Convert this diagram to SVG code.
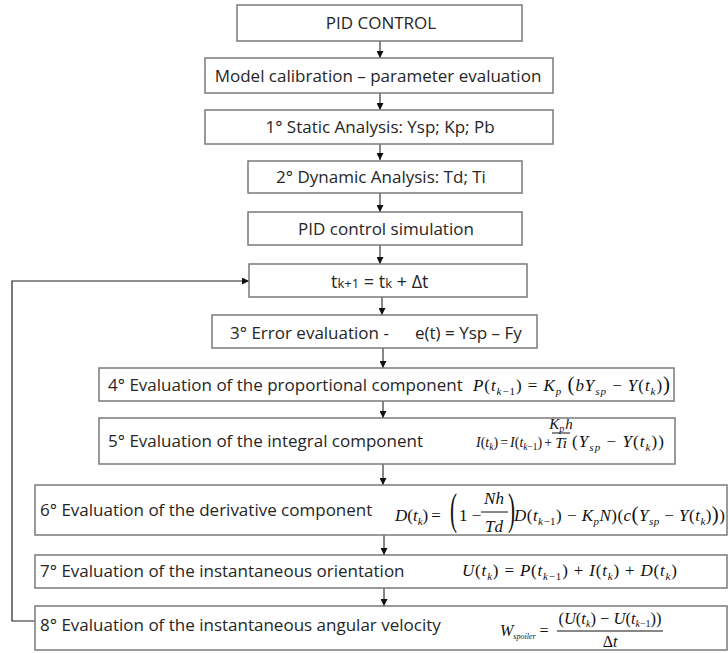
<svg xmlns="http://www.w3.org/2000/svg" width="728" height="653" viewBox="0 0 728 653">
<style>
.box{fill:#fff;stroke:#7a7a7a;stroke-width:1.5}
.t{font-family:"Open Sans","Liberation Sans",sans-serif;font-size:17px;fill:#262626}
.c{text-anchor:middle}
.m{font-family:"Liberation Serif",serif;font-size:17px;font-style:italic;fill:#111}
.u{font-style:normal}
.s{font-size:11px}
.bp{font-family:"Liberation Serif",serif;font-size:21px;font-style:normal;fill:#111}
.con{fill:none;stroke:#111;stroke-width:1}
.fb{fill:none;stroke:#222;stroke-width:1.2}
.bar{stroke:#111;stroke-width:1}
</style>
<defs>
<marker id="ah" viewBox="0 0 10 10" refX="10" refY="5" markerWidth="7" markerHeight="7" markerUnits="userSpaceOnUse" orient="auto">
<path d="M0,0 L10,5 L0,10 z" fill="#111"/>
</marker>
</defs>

<g id="connectors">
<path class="con" d="M380,41 V58" marker-end="url(#ah)"/>
<path class="con" d="M380,93 V110" marker-end="url(#ah)"/>
<path class="con" d="M380,144 V160" marker-end="url(#ah)"/>
<path class="con" d="M380,193 V212" marker-end="url(#ah)"/>
<path class="con" d="M380,245 V264" marker-end="url(#ah)"/>
<path class="con" d="M382,297 V315" marker-end="url(#ah)"/>
<path class="con" d="M383,348 V368" marker-end="url(#ah)"/>
<path class="con" d="M383,401 V418" marker-end="url(#ah)"/>
<path class="con" d="M383,464 V485" marker-end="url(#ah)"/>
<path class="con" d="M384,535 V555" marker-end="url(#ah)"/>
<path class="con" d="M384,588 V606" marker-end="url(#ah)"/>
<path class="fb" d="M35,621 H12 V281 H249" marker-end="url(#ah)"/>
</g>

<g id="n1"><rect class="box" x="237" y="5" width="285" height="36"/>
<text class="t c" x="381" y="29">PID CONTROL</text></g>

<g id="n2"><rect class="box" x="205" y="58" width="348" height="35"/>
<text class="t c" x="378" y="81.5">Model calibration – parameter evaluation</text></g>

<g id="n3"><rect class="box" x="205" y="110" width="348" height="34"/>
<text class="t c" x="380" y="133">1° Static Analysis: Ysp; Kp; Pb</text></g>

<g id="n4"><rect class="box" x="248" y="161" width="274" height="32"/>
<text class="t c" x="381" y="183">2° Dynamic Analysis: Td; Ti</text></g>

<g id="n5"><rect class="box" x="248" y="212" width="274" height="33"/>
<text class="t c" x="386" y="234.5">PID control simulation</text></g>

<g id="n6"><rect class="box" x="249" y="264" width="278" height="33"/>
<text class="t" x="331" y="287.5" style="font-size:18px">t<tspan style="font-size:13px">k+1</tspan> = t<tspan style="font-size:13px">k</tspan> + Δt</text></g>

<g id="n7"><rect class="box" x="212" y="315" width="325" height="33"/>
<text class="t" x="230" y="338.5">3° Error evaluation -</text>
<text class="t" x="415" y="338.5">e(t) = Ysp – Fy</text></g>

<g id="n8"><rect class="box" x="99" y="368" width="575" height="33"/>
<text class="t" x="108" y="391">4° Evaluation of the proportional component</text>
<text class="m" x="473" y="391" textLength="197" lengthAdjust="spacing">P<tspan class="u">(</tspan>t<tspan class="s" dy="4">k<tspan class="u">−1</tspan></tspan><tspan class="u" dy="-4">) = </tspan>K<tspan class="s" dy="4">p</tspan><tspan dy="-4"> </tspan><tspan class="bp">(</tspan>bY<tspan class="s" dy="4">sp</tspan><tspan class="u" dy="-4"> − </tspan>Y<tspan class="u">(</tspan>t<tspan class="s" dy="4">k</tspan><tspan class="u" dy="-4">)</tspan><tspan class="bp">)</tspan></text></g>

<g id="n9"><rect class="box" x="99" y="418" width="576" height="46"/>
<text class="t" x="108" y="447">5° Evaluation of the integral component</text>
<text class="m" x="476" y="447" style="font-size:14px">I<tspan class="u">(</tspan>t<tspan style="font-size:9.5px" dy="3">k</tspan><tspan class="u" dy="-3">)</tspan><tspan class="u" dx="2">=</tspan><tspan dx="2">I</tspan><tspan class="u">(</tspan>t<tspan style="font-size:9.5px" dy="3">k<tspan class="u">−1</tspan></tspan><tspan class="u" dy="-3">)</tspan><tspan class="u" dx="2">+</tspan></text>
<text class="m" x="561" y="429" style="font-size:15px" text-anchor="middle">K<tspan style="font-size:10px" dy="3">p</tspan><tspan dy="-3" dx="1">h</tspan></text>
<line class="bar" x1="552" y1="433" x2="570" y2="433"/>
<text class="m" x="561" y="448" style="font-size:15px" text-anchor="middle">Ti</text>
<text class="m" x="572" y="447" textLength="92" lengthAdjust="spacing"><tspan class="u">(</tspan>Y<tspan class="s" dy="4">sp</tspan><tspan class="u" dy="-4"> − </tspan>Y<tspan class="u">(</tspan>t<tspan class="s" dy="4">k</tspan><tspan class="u" dy="-4">))</tspan></text></g>

<g id="n10"><rect class="box" x="35" y="485" width="692" height="50"/>
<text class="t" x="40" y="516">6° Evaluation of the derivative component</text>
<text class="m" x="395" y="521">D<tspan class="u">(</tspan>t<tspan class="s" dy="4">k</tspan><tspan class="u" dy="-4">)</tspan><tspan class="u" dx="3">=</tspan></text>
<text class="bp" transform="translate(450,524) scale(1,2.1)">(</text>
<text class="m u" x="459" y="521">1 −</text>
<text class="m" x="494" y="504" text-anchor="middle">Nh</text>
<line class="bar" x1="481" y1="512" x2="508" y2="512"/>
<text class="m" x="494" y="532" text-anchor="middle">Td</text>
<text class="bp" transform="translate(508,524) scale(1,2.1)">)</text>
<text class="m" x="514" y="521" textLength="211" lengthAdjust="spacing">D<tspan class="u">(</tspan>t<tspan class="s" dy="4">k<tspan class="u">−1</tspan></tspan><tspan class="u" dy="-4">) − </tspan>K<tspan class="s" dy="4">p</tspan><tspan dy="-4">N</tspan><tspan class="u">)(</tspan>c<tspan class="bp">(</tspan>Y<tspan class="s" dy="4">sp</tspan><tspan class="u" dy="-4"> − </tspan>Y<tspan class="u">(</tspan>t<tspan class="s" dy="4">k</tspan><tspan class="u" dy="-4">)</tspan><tspan class="bp">)</tspan><tspan class="u">)</tspan></text></g>

<g id="n11"><rect class="box" x="35" y="555" width="692" height="33"/>
<text class="t" x="40" y="577">7° Evaluation of the instantaneous orientation</text>
<text class="m" x="462" y="576" textLength="215" lengthAdjust="spacing">U<tspan class="u">(</tspan>t<tspan class="s" dy="4">k</tspan><tspan class="u" dy="-4">) = </tspan>P<tspan class="u">(</tspan>t<tspan class="s" dy="4">k<tspan class="u">−1</tspan></tspan><tspan class="u" dy="-4">) + </tspan>I<tspan class="u">(</tspan>t<tspan class="s" dy="4">k</tspan><tspan class="u" dy="-4">) + </tspan>D<tspan class="u">(</tspan>t<tspan class="s" dy="4">k</tspan><tspan class="u" dy="-4">)</tspan></text></g>

<g id="n12"><rect class="box" x="35" y="606" width="692" height="44"/>
<text class="t" x="40" y="631">8° Evaluation of the instantaneous angular velocity</text>
<text class="m" x="500" y="636" style="font-size:16px">W<tspan style="font-size:8px" dy="3">spoiler</tspan><tspan class="u" dy="-3" dx="4">=</tspan></text>
<text class="m" x="610" y="624" style="font-size:16.5px" text-anchor="middle"><tspan class="u">(</tspan>U<tspan class="u">(</tspan>t<tspan style="font-size:10px" dy="3">k</tspan><tspan class="u" dy="-3">) − </tspan>U<tspan class="u">(</tspan>t<tspan style="font-size:10px" dy="3">k<tspan class="u">−1</tspan></tspan><tspan class="u" dy="-3">))</tspan></text>
<line class="bar" x1="557" y1="631" x2="663" y2="631"/>
<text class="m" x="610" y="647" style="font-size:16px" text-anchor="middle"><tspan class="u">Δ</tspan>t</text></g>
</svg>
